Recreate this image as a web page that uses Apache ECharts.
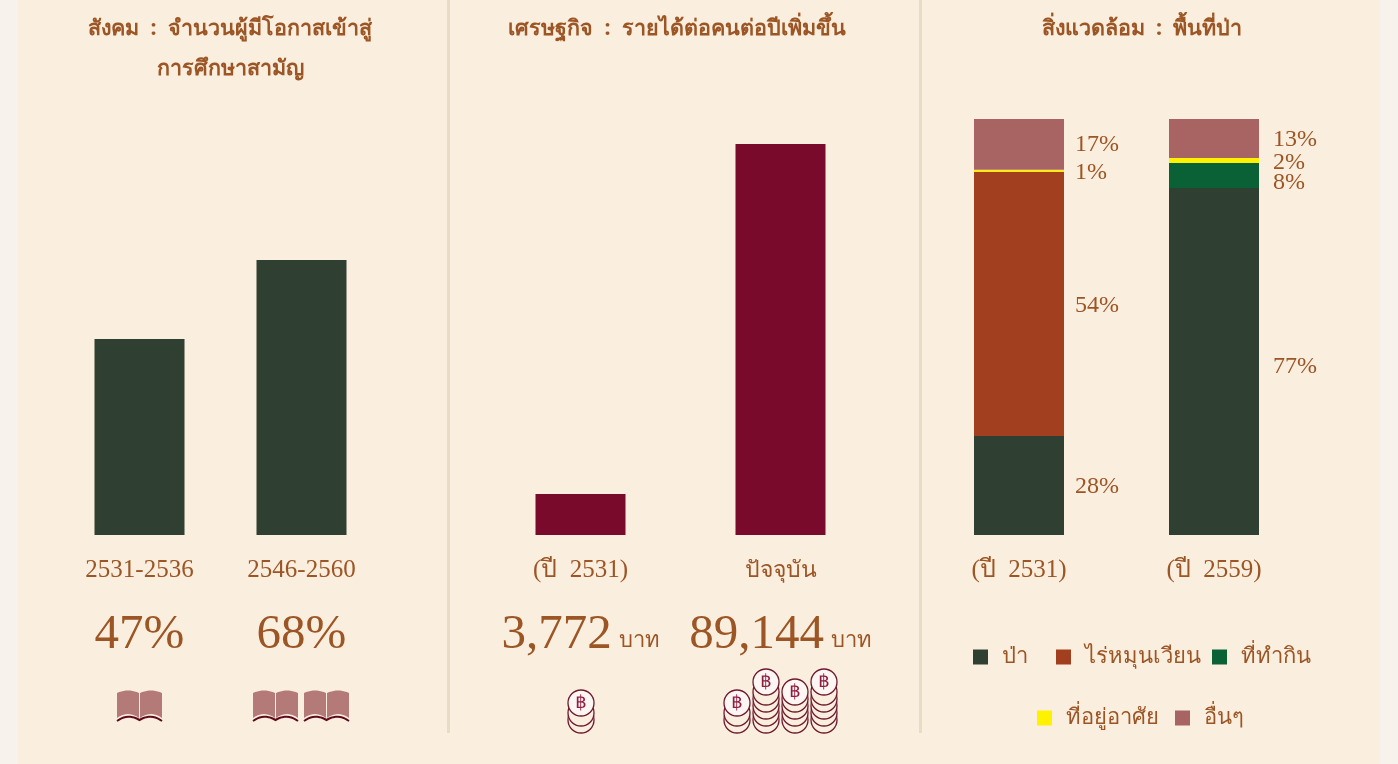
<!DOCTYPE html>
<html>
<head>
<meta charset="utf-8">
<title>chart</title>
<script src="https://cdn.jsdelivr.net/npm/echarts@6/dist/echarts.min.js"></script>
<style>
html, body { margin: 0; padding: 0; background: #f8f2ec; }
#main { width: 1398px; height: 764px; }
</style>
</head>
<body>
<div id="main"></div>
<script>
// The bars in the picture are not proportional to their printed numbers,
// so bar heights and printed labels are kept apart.
var socialCats = ['2531-2536', '2546-2560'];
var socialBars = [48.5, 68];
var socialText = ['47%', '68%'];
var bookCounts = [1, 2];

var incomeCats = ['(ปี  2531)', 'ปัจจุบัน'];
var incomeBars = [9350, 89144];
var incomeText = ['3,772', '89,144'];
var incomeUnit = 'บาท';

var forestCats = ['(ปี  2531)', '(ปี  2559)'];
var forestBars = [23.8, 83.4];
var swiddenBars = [63.5, 0];
var farmBars = [0, 6];
var homeBars = [0.5, 1.2];
var otherBars = [12.2, 9.4];
var forestText = ['28%', '77%'];
var swiddenText = ['54%', ''];
var farmText = ['', '8%'];
var homeText = ['1%', '2%'];
var otherText = ['17%', '13%'];

var titles = ['สังคม  :  จำนวนผู้มีโอกาสเข้าสู่\nการศึกษาสามัญ', 'เศรษฐกิจ  :  รายได้ต่อคนต่อปีเพิ่มขึ้น', 'สิ่งแวดล้อม  :  พื้นที่ป่า'];
var legendRow1 = ['ป่า', 'ไร่หมุนเวียน', 'ที่ทำกิน'];
var legendRow2 = ['ที่อยู่อาศัย', 'อื่นๆ'];

var TXT = '#9c5524';
var FONT = '"Noto Sans", "DejaVu Sans", sans-serif';
var NUMFONT = '"Liberation Serif", "Noto Sans", serif';

var chart = echarts.init(document.getElementById('main'));

function xAxisFor(idx, cats, formatter) {
    return {
        type: 'category', gridIndex: idx, data: cats,
        axisLine: { show: false }, axisTick: { show: false },
        axisLabel: {
            interval: 0, margin: 22, color: TXT, fontFamily: NUMFONT,
            formatter: formatter,
            rich: {
                cat: { fontSize: 25, color: TXT, fontFamily: NUMFONT, height: 26, lineHeight: 26 },
                thai: { fontSize: 23, color: TXT, fontFamily: FONT, height: 26, lineHeight: 26 },
                gap: { fontSize: 10, height: 21, lineHeight: 21 },
                big: { fontSize: 49, color: TXT, fontFamily: NUMFONT, height: 62, lineHeight: 62 },
                unit: { fontSize: 22, color: TXT, fontFamily: FONT, padding: [12, 0, 0, 4] }
            }
        }
    };
}
function yAxisFor(idx, max) {
    return { type: 'value', gridIndex: idx, min: 0, max: max, show: false };
}
function stack(name, data, text, color, yShift) {
    return {
        name: name, type: 'bar', stack: 'area', xAxisIndex: 2, yAxisIndex: 2,
        barWidth: 90, itemStyle: { color: color },
        data: data.map(function (v, i) {
            // right bar's labels sit a little further out
            return { value: v, label: { offset: [i === 1 ? 3 : 0, yShift[i]] } };
        }),
        label: {
            show: true, position: 'right', distance: 11, color: TXT, fontSize: 24, fontFamily: NUMFONT,
            formatter: function (p) { return text[p.dataIndex]; }
        }
    };
}
function legendItem(name, left, top) {
    return {
        data: [name], left: left, top: top, padding: 0, itemWidth: 15, itemHeight: 15, icon: 'rect',
        textStyle: { color: TXT, fontSize: 22, fontFamily: FONT, padding: [0, 0, 0, 9] }
    };
}

// decorative icons
function curve(x0, y0, cx, cy, x1, y1) {
    var pts = [];
    for (var i = 0; i <= 10; i++) {
        var t = i / 10, s = 1 - t;
        pts.push([s * s * x0 + 2 * s * t * cx + t * t * x1, s * s * y0 + 2 * s * t * cy + t * t * y1]);
    }
    return pts;
}
function bookIcon(x, y) {
    var left = curve(0, 3, 11, -2, 22, 3).concat(curve(22, 28, 11, 20, 0, 28));
    var right = curve(23, 3, 34, -2, 45, 3).concat(curve(45, 28, 34, 20, 23, 28));
    var edge = curve(0, 31, 11, 23, 22.5, 30).concat(curve(22.5, 30, 34, 23, 45, 31));
    return {
        type: 'group', x: x, y: y, silent: true,
        children: [
            { type: 'polygon', shape: { points: left }, style: { fill: '#b47a78' } },
            { type: 'polygon', shape: { points: right }, style: { fill: '#b47a78' } },
            { type: 'polyline', shape: { points: edge }, style: { fill: 'none', stroke: '#5e0a1c', lineWidth: 2 } }
        ]
    };
}
function coinStack(cx, topY, bottomY) {
    var list = [], r = 13, y = bottomY - r;
    while (y > topY + 3) {
        list.push({ type: 'circle', shape: { cx: cx, cy: y, r: r }, style: { fill: '#faeedf', stroke: '#6e1a2e', lineWidth: 1.3 }, silent: true });
        y -= 7;
    }
    list.push({ type: 'circle', shape: { cx: cx, cy: topY, r: r }, style: { fill: '#fdf6f3', stroke: '#6e1a2e', lineWidth: 1.3 }, silent: true });
    list.push({ type: 'text', x: cx, y: topY, silent: true, style: { text: '฿', fill: '#8f1d42', fontSize: 18, fontFamily: FONT, align: 'center', verticalAlign: 'middle' } });
    return list;
}

var graphics = [
    { type: 'rect', shape: { x: 18, y: 0, width: 1362, height: 764 }, style: { fill: '#faeedf' }, z: -10, silent: true },
    { type: 'rect', shape: { x: 447, y: 0, width: 3, height: 733 }, style: { fill: '#e8dcc2' }, z: -9, silent: true },
    { type: 'rect', shape: { x: 919, y: 0, width: 3, height: 733 }, style: { fill: '#e8dcc2' }, z: -9, silent: true }
];
var bookLeft = [117, 253];
for (var b = 0; b < bookCounts.length; b++) {
    for (var n = 0; n < bookCounts[b]; n++) {
        graphics.push(bookIcon(bookLeft[b] + n * 51, 690));
    }
}
graphics = graphics
    .concat(coinStack(581, 703, 733))
    .concat(coinStack(737, 703, 733))
    .concat(coinStack(766, 682, 733))
    .concat(coinStack(795, 692, 733))
    .concat(coinStack(824, 682, 733));

var titleStyle = { color: TXT, fontSize: 21.5, fontWeight: 'bold', fontFamily: FONT, lineHeight: 40 };
var option = {
    animation: false,
    backgroundColor: '#f8f2ec',
    title: [
        { text: titles[0], left: 230, top: 9, padding: 0, textAlign: 'center', textStyle: titleStyle },
        { text: titles[1], left: 677, top: 9, padding: 0, textAlign: 'center', textStyle: titleStyle },
        { text: titles[2], left: 1142, top: 9, padding: 0, textAlign: 'center', textStyle: titleStyle }
    ],
    grid: [
        { left: 58.5, width: 324, top: 119, height: 416 },
        { left: 480.5, width: 400, top: 119, height: 416 },
        { left: 921.5, width: 390, top: 119, height: 416 }
    ],
    xAxis: [
        xAxisFor(0, socialCats, function (v, i) { return '{cat|' + v + '}\n{gap| }\n{big|' + socialText[i] + '}'; }),
        xAxisFor(1, incomeCats, function (v, i) { return '{' + (i === 1 ? 'thai' : 'cat') + '|' + v + '}\n{gap| }\n{big|' + incomeText[i] + '} {unit|' + incomeUnit + '}'; }),
        xAxisFor(2, forestCats, function (v) { return '{cat|' + v + '}'; })
    ],
    yAxis: [yAxisFor(0, 102.9), yAxisFor(1, 94844), yAxisFor(2, 100)],
    legend: [
        legendItem(legendRow1[0], 973, 646),
        legendItem(legendRow1[1], 1056, 646),
        legendItem(legendRow1[2], 1212, 646),
        legendItem(legendRow2[0], 1037, 707),
        legendItem(legendRow2[1], 1175, 707)
    ],
    graphic: graphics,
    series: [
        { type: 'bar', xAxisIndex: 0, yAxisIndex: 0, barWidth: 90, itemStyle: { color: '#2f4032' }, data: socialBars },
        { type: 'bar', xAxisIndex: 1, yAxisIndex: 1, barWidth: 90, itemStyle: { color: '#7a0a2b' }, data: incomeBars },
        stack('ป่า', forestBars, forestText, '#2f4032', [1, 5]),
        stack('ไร่หมุนเวียน', swiddenBars, swiddenText, '#a23f1f', [2, 0]),
        stack('ที่ทำกิน', farmBars, farmText, '#0a6135', [0, 7]),
        stack('ที่อยู่อาศัย', homeBars, homeText, '#fff200', [2, 2]),
        stack('อื่นๆ', otherBars, otherText, '#a86363', [0, 1])
    ]
};
chart.setOption(option);
</script>
</body>
</html>
